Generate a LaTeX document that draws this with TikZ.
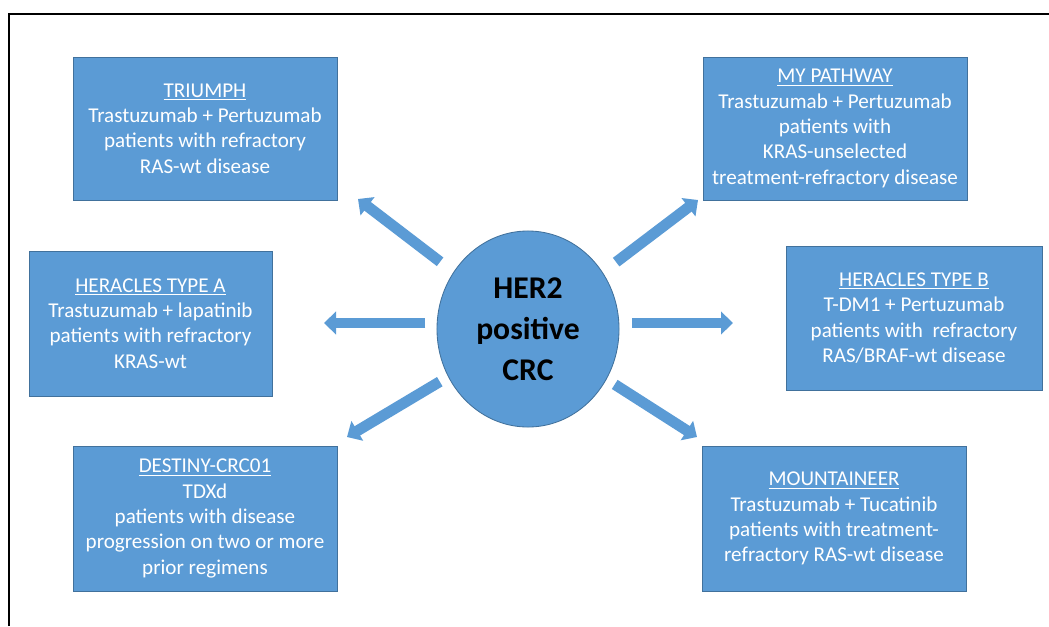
\documentclass[tikz,border=0pt]{standalone}
\usepackage{fontspec}
\setmainfont{Carlito}
\usepackage{tikz}
\usetikzlibrary{arrows.meta,shapes.geometric}
\definecolor{clTrial}{HTML}{5B9BD5}
\definecolor{clTrialEdge}{HTML}{41719C}
\tikzset{
  trial/.style={rectangle, draw=clTrialEdge, fill=clTrial, line width=0.6pt,
                text=white, align=center, inner sep=2pt,
                font=\fontsize{15}{18}\selectfont},
  hub/.style={ellipse, draw=clTrialEdge, fill=clTrial, line width=0.6pt,
              minimum width=4.55cm, minimum height=4.9cm, inner sep=0pt,
              align=center, text=black, font=\fontsize{22.5}{29}\selectfont\bfseries},
  spoke/.style={draw=clTrial, line width=0.27cm, shorten <=0.32cm,
                -{Triangle[width=0.56cm,length=0.3cm]}},
  frame/.style={draw=black, line width=1.1pt},
}

\begin{document}
\begin{tikzpicture}[x=0.025cm, y=-0.025cm]
  \useasboundingbox (0,0) rectangle (1049,626);
  \draw[frame] (9,626) |- (1049,14);

  % trials around the hub
  \node[trial, minimum width=6.6cm, minimum height=3.575cm] (triumph) at (205,128.5)
    {\underline{TRIUMPH}\\Trastuzumab + Pertuzumab\\patients with refractory\\RAS-wt disease};
  \node[trial, minimum width=6.6cm, minimum height=3.575cm] (pathway) at (835,128.5)
    {\underline{MY PATHWAY}\\Trastuzumab + Pertuzumab\\patients with\\KRAS-unselected\\treatment-refractory disease};
  \node[trial, minimum width=6.075cm, minimum height=3.625cm] (heraclesA) at (150.5,323.5)
    {\underline{HERACLES TYPE A}\\Trastuzumab + lapatinib\\patients with refractory\\KRAS-wt};
  \node[trial, minimum width=6.4cm, minimum height=3.6cm] (heraclesB) at (914,318)
    {\underline{HERACLES TYPE B}\\T-DM1 + Pertuzumab\\patients with~ refractory\\RAS/BRAF-wt disease};
  \node[trial, minimum width=6.6cm, minimum height=3.625cm] (destiny) at (205,518.5)
    {\underline{DESTINY-CRC01}\\TDXd\\patients with disease\\progression on two or more\\prior regimens};
  \node[trial, minimum width=6.6cm, minimum height=3.625cm] (mountain) at (834,518.5)
    {\underline{MOUNTAINEER}\\Trastuzumab + Tucatinib\\patients with treatment-\\refractory RAS-wt disease};

  \node[hub] (hub) at (528,329) {HER2\\positive\\CRC};

  % arrow tips
  \coordinate (tipTriumph) at (358,199);
  \coordinate (tipPathway) at (698,200);
  \coordinate (tipHeraclesA) at (324,323);
  \coordinate (tipHeraclesB) at (733,323);
  \coordinate (tipDestiny) at (347,437);
  \coordinate (tipMountain) at (697,437);

  \draw[spoke, shorten <=0.42cm] (hub) -- (tipTriumph);
  \draw[spoke, shorten <=0.42cm] (hub) -- (tipPathway);
  \draw[spoke, shorten <=0.28cm] (hub.west |- tipHeraclesA) -- (tipHeraclesA);
  \draw[spoke] (hub.east |- tipHeraclesB) -- (tipHeraclesB);
  \draw[spoke, shorten <=0.24cm] (hub) -- (tipDestiny);
  \draw[spoke, shorten <=0.24cm] (hub) -- (tipMountain);
\end{tikzpicture}
\end{document}
